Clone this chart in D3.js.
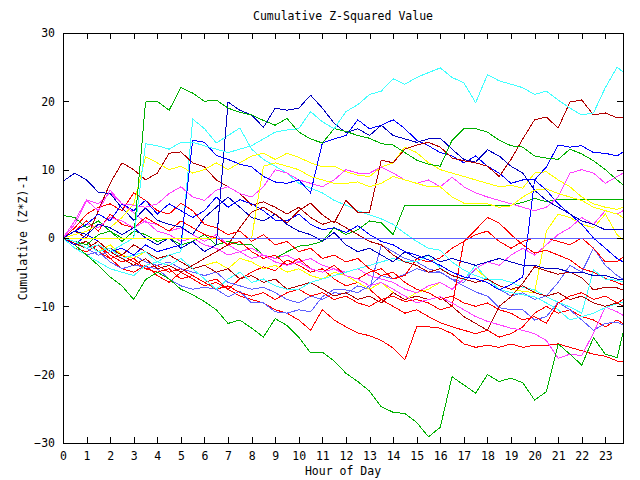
<!DOCTYPE html>
<html><head><meta charset="utf-8">
<script src="https://cdn.jsdelivr.net/npm/d3@7"></script>
<style>
body{margin:0;background:#fff}
text{font-family:"DejaVu Sans Mono",monospace;font-size:11.5px;fill:#000}
</style>
</head><body>
<svg id="c" width="640" height="480"></svg>
<script>
const title = "Cumulative Z-Squared Value";
const xTitle = "Hour of Day";
const yTitle = "Cumulative (Z*Z)-1";
const xTicks = [0,1,2,3,4,5,6,7,8,9,10,11,12,13,14,15,16,17,18,19,20,21,22,23];
const yTicks = [-30,-20,-10,0,10,20,30];
const hours = [0,0.5,1,1.5,2,2.5,3,3.5,4,4.5,5,5.5,6,6.5,7,7.5,8,8.5,9,9.5,10,10.5,11,11.5,
  12,12.5,13,13.5,14,14.5,15,15.5,16,16.5,17,17.5,18,18.5,19,19.5,20,20.5,21,21.5,22,22.5,23,23.5,23.75];

const cyanTop = [0,-0.5,-1.5,-1,-2,-1,0,13.8, 13.5,13,14,14,13.5,13,12.5,13, 13.5,14.5,15.5,15.8,16,18.5,17,16,
  18.5,19.5,21,21.5,23.3,22.5,23.5,24.2, 24.9,23.5,22.7,19.8,23.9,23,22.5,22, 21,21.5,20.2,19,18,18.3,22,25, 24.3];
const greenTop = [0,-0.5,-1,0.5,1,0,0,19.9, 20,18.7,22,21.2,20,20.2,19,18.4, 18,17.2,16.5,17.5,15.5,14.5,13.9,16,
  15.6,15,14.6,13.8,13.6,12.5,11.4,10.8, 10.5,14.3,16,16,15.5,14.3,13.5,13.3, 12,11.7,11.5,13,12.3,11.3,10,8.5, 7.8];
const darkRedRise = [0,-0.8,-1.5,-0.5,-2,-3,-4,-3, -4.5,-4,-5,-4,-3,-2,-1,1.5, 3.8,4.5,3.5,2.2,4,5.1,3.4,2.2,
  5.5,3.8,3.8,11.4,11,13,13.6,14, 13.3,11.7,11.3,11,10.5,9,11.5,14.5, 17.3,17.7,16.1,19.9,20.2,18,18.3,17.6, 17.6];
const blueJump7 = [0,1,0.5,2,1.5,0.5,1.5,0, -1,0,-1.5,-0.5,-2,-1,19.9,18.7, 18,16.2,19,18.7,19,20.9,19,16.8,
  15.4,16,15,16.5,15,14.5,14,14.5, 14.6,13,11.5,11.1,12.9,12,10.5,9.5, 7,5.5,4.5,3.5,2.5,2,1.2,1.2, 1.2];
const blueJump5 = [0,-1,0.5,-0.5,-2,-1.5,-2.5,-1, -2,-1.5,-1,14.3,14,12.1,11.5,10.8, 10.4,9,8.2,8,8.5,6.6,13.9,14.5,
  15,17.3,16,16.5,17.3,16,14.3,13.5, 12.5,12,11,12,10.5,9.5,8,8.5, 8.5,10.4,13.6,13.3,13.5,12.5,12.4,12, 12.6];
const magentaHigh = [0,2,5.5,4,7,5,4.8,4.5, 5,6.5,7.5,6,5.5,7,7.5,6.5, 6,7.5,10,9.5,8.5,8,7.5,8.5,
  10,9.5,9.5,10.4,9.5,8.5,8,8.5, 7.5,8.9,7.5,6.6,6,5.5,5,4.5, 4,4.5,6,9.5,10,9.5,8,9, 9.5];
const yellowHigh = [0,0.5,1,2,1.5,3,5,11.9, 11,10,10.5,9.5,10,11,10,11, 12,12.4,11.5,12.4,11.8,11,10.4,10.5,
  9.7,9.2,9,10.4,11,13.3,12.5,11, 10,9.5,9,8.5,8,7.5,7.7,7.3, 9.5,9.7,8.5,7.5,6,5,4.5,4.2, 4.5];
const yellowFlat = [0,0,0,0,0,0,0,0, 0,0,0,0,0,0,0,0, 0,10.5,11,10.5,10,9,8.5,8,
  8,8.2,7.5,8,9,8.5,8,7.5, 7.5,6,5.1,5,5,4.5,4.7,6, 7,7.2,6.5,6,5.5,4.5,4,3.5, 3];
const greenLow = [0,-1,-2.5,-4,-5.7,-7,-9,-6.1, -5,-6,-7.5,-8.3,-9.3,-10.5,-12.5,-12, -13.2,-14.5,-11.8,-12.8,-14.5,-16.8,-16.7,-18,
  -19.8,-21,-22.4,-24.7,-25.5,-25.7,-27,-29.1, -27.7,-20.3,-21.5,-22.7,-20,-21,-20.5,-21.2, -23.7,-22.5,-15.5,-17,-18.6,-14.6,-17,-17.5, -13.9];
const greenStep = [3.3,3,1.5,2.5,1,-0.5,1,0.5, -0.5,0,-1,-0.5,0.5,-1,-0.5,-1, -1,-2.5,-3,-2,-1.2,-1,-0.5,1.5,
  0.5,1.2,2.5,2.2,0.5,4.8,4.8,4.8, 4.8,4.8,4.8,4.8,4.8,4.8,4.8,5.2, 5.8,5.3,5.7,5.7,5.7,5.7,5.7,5.7, 5.7];
const lightBlueFlat = [null,null,null,null,null,null,null,null, null,null,null,null,null,0,0,0, 0,0,0,0,0,0,0,0,
  0,0,0,0,0,0,0,0, 0,0,0,0,0,0,0,0, 0,0,0,0,0,0,0,0, 0];
const blueLeft = [8.3,9.5,8.5,6.7,6.5,4.4,2.6,4.4, 2.6,2,1.6,0.5,3,4.5,6,4.5, 3,2.5,3.5,2,1,0.5,-0.5,0.8,
  -1,-2,-1.5,-2.5,-3.5,-2,-3,-2.5, -3.5,-3,-3.5,-4,-3.5,-3,-3.5,-4, -4,-4.5,-4.5,-5,-5,-5.5,-5.5,-6, -6.1];
const darkRedHigh = [0,1,0,4,8,11,10,8.5, 9.5,12.4,12.6,11,10.4,8.5,7.5,6.5, 4.8,5.3,4.5,3.5,4.5,3,2,2.5,
  1.5,0.5,-0.5,-1,-2.5,-3.5,-4,-5, -4.5,-5.5,-6,-6.5,-6,-7,-7.5,-7, -8,-8.5,-8,-9,-8.5,-9.5,-10,-9.5, -10];
const cyanJump5 = [0,-0.5,-1,-2,-1.5,-3,-2.5,-2, -3.5,-2.5,-2,17.4,16,13.9,15,16.1, 13,11.5,10.5,9.5,8,7.3,6.6,5.5,
  4.8,4,3.4,2.8,2,0.7,-0.5,-1.5, -1.8,-3.5,-4.7,-5.5,-6.1,-6,-6.5,-7.2, -7.6,-8.6,-9.4,-10.1,-11,-4.7,-6,-6.2, -6.4];
const cyanLow = [0,-1.5,-2.5,-3.5,-4.5,-5,-5.5,-4, -3.5,-4,-3,-4.5,-6,-7.5,-6,-5, -6.5,-6,-7,-7.5,-7.5,-6.5,-6,-5.5,
  -5,-4.5,-4,-3.5,-3,-3.5,-3.5,-2.5, -4.4,-5.5,-6.1,-4,-6,-7.5,-8,-8.3, -8.6,-9.5,-10.5,-12,-11.5,-11,-10.2,-9.6, -9.4];
const magentaLow = [0,1,2,1.5,3,2.5,1.5,2.5, 1,0.5,-0.5,0,-1,-1.5,-2.5,-2, -3,-2.5,-3.5,-4,-3.5,-4.5,-5,-4.5,
  -5.5,-6,-7,-6.5,-7.5,-8.5,-9.5,-9, -8.6,-9.5,-10.5,-11.5,-12.2,-12.7,-13.2,-13.5, -14,-15,-17.6,-17,-17.2,-13.9,-10.1,-10.8, -11.3];
const redJump17 = [0,-0.5,-1.5,-1,-2.5,-3.5,-3,-4.5, -5,-4.5,-6,-5.5,-6.5,-7.5,-7,-8, -8.5,-8,-9,-8,-7.5,-8.5,-8,-9,
  -8.5,-9.5,-10,-9,-8.5,-9.3,-9,-9.5, -10.5,-10,-0.5,1.2,3,2.2,0.5,-1, -2.2,-1.8,-2.5,-3.2,-4.5,-5,-5.9,-6.5, -6.9];
const redMid = [0,1,2.5,1,3.5,2,1.5,3, 2,1,2.5,1.5,0.5,0,-1,-0.5, -2,-3,-2.5,-4,-3,-4.5,-5,-4,
  -5.5,-6,-5,-4.5,-6,-5.5,-3,-3.5, -2.9,-1.5,-0.5,0.5,1,-0.5,-1.5,-0.5, 0,0,-0.5,-1,0,-1.5,-3.5,-3.5, -2.8];
const darkRedMid = [0,-1,-0.5,-2,-1.5,-2.5,-1,-2, -3,-2.5,-3.5,-4.5,-4,-5,-4.5,-6, -5.5,-6.5,-6,-7.5,-7,-6.5,-7.5,-8.5,
  -8,-9,-8.5,-9.5,-8,-9,-8.5,-9, -8.6,-10,-11.5,-12.5,-13.5,-10,-8.6,-6.6, -4.2,-4.8,-5.3,-5,-5.8,-7.6,-7.2,-7.3, -7.6];
const magentaMid = [0,2.5,5.6,5,6.6,5,3.7,2.3, 2,1,1.5,0.5,-0.5,0.5,-1,-2, -1.5,-2.5,-3,-2.5,-3.5,-3,-4,-4.5,
  -5,-4.5,-5.5,-6,-6.5,-7.5,-8,-7, -6.5,-7.5,-6,-4.5,-3.5,-4,-2.5,-1.5, -2.5,-1,0.5,1.5,3,2,4,3.5, 4];
const yellowLow = [0,-1,-0.5,-2,-1,-2.5,-3,-2, -3.5,-4,-3,-4.5,-4,-3.5,-4.5,-3, -3.5,-4.5,-4,-5,-4.5,-5.5,-6,-5,
  -5.5,-6.5,-7.5,-6.5,-8,-9,-8,-7.5, -6.5,-7.5,-6,-4.5,-6,-7,-7.5,-7.8, -8,1,3.5,3,2,1.5,3.5,0.5, -0.3];
const lightBlueLow = [0,-1.5,-2.5,-2,-3.5,-4.5,-4,-4.2, -4.5,-6,-7,-7.5,-7.2,-7.5,-8.6,-7.8, -9.5,-9.5,-10.8,-11,-10.5,-10.8,-8.6,-7.5,
  -7.6,-8,-7,-5.5,-6,-5.3,-4.5,-5, -5,-6.1,-7,-7.9,-8.5,-10.2,-10.5,-10.5, -12,-11.5,-9.4,-10.5,-12,-13.5,-12.5,-12.3, -12.7];
const lightBlueMid = [0,-0.5,-1.5,-2.5,-2,-3,-2.5,-3.5, -4,-3.5,-4.5,-5,-5.5,-5,-6.5,-7, -7.5,-7.2,-8,-9,-9.5,-8.5,-9,-8,
  -8.2,-7,-7.5,-1,-2,-3,-3.5,-4.5, -5,-6,-6.5,-4.5,-6,-7.5,-8.5,-8, -9,-8.5,-6.5,-4,-5,-1.5,-4,-5.5, -6];
const blueJump20 = [0,1,2,3.5,2.5,5,4,5.5, 3.5,5,4,3,4,6,4.5,5.6, 5,4,2.6,2.5,3.5,2,1.2,1.5,
  0.8,1.8,0.5,-0.5,-1,-2,-2.5,-3.2, -4,-5,-5.7,-6,-6.5,-7.6,-6.8,-5.7, 8.5,7,5,3.5,2,0,-1.5,-3, -3.5];
const redUpper = [0,1.5,3.5,4.5,5,4,6.6,5.5, 4,3.5,5.1,4,2,1.5,0.5,1, -0.5,0.5,-1,-0.5,-2,-1.5,-3,-2.5,
  -3.5,-3,-4.5,-5.5,-5,-6.5,-7.5,-8, -9,-8.5,-9.5,-10,-9.5,-10.5,-11,-12, -11.5,-12.5,-9.5,-8.5,-8,-9,-8.5,-9.5, -9];
const redLow = [0,-1.5,-2,-1,-3,-4.5,-5,-4, -5.5,-6.5,-5,-6,-7,-6.5,-7.5,-6, -5,-4.2,-4.8,-3.2,-4,-5,-4.5,-6,
  -7,-6.5,-7.5,-9,-10,-11,-10.5,-11.5, -12.4,-13,-13.5,-14,-13.5,-14.5,-14,-13, -11,-10,-11,-10.5,-11.5,-12,-13,-12, -12.5];
const redBottom = [0,-1,-0.5,-2,-3,-2.5,-3.5,-4.5, -4,-5,-4.5,-5.5,-6.5,-6,-7.5,-8.5, -9,-9.5,-10.5,-11,-12,-13.5,-10.5,-12,
  -13,-13.9,-14.3,-15,-16.1,-17.8,-13,-13, -13.2,-14,-15.5,-16,-15.7,-16,-15.5,-16, -15.7,-15.7,-15.5,-16,-16.5,-17,-17.3,-18, -18.1];

const seriesList = [greenStep, redBottom, redLow, lightBlueMid, lightBlueLow, yellowLow, magentaMid, darkRedMid,
  redMid, redJump17, magentaLow, cyanLow, cyanJump5, darkRedHigh, blueLeft, redUpper, blueJump20, greenLow,
  yellowHigh, magentaHigh, blueJump5, blueJump7, darkRedRise, greenTop, cyanTop, yellowFlat, lightBlueFlat];
const seriesColors = ["#00b000","#ff0000","#ff0000","#6060ff","#6060ff","#ffff00","#ff40ff","#b00000",
  "#ff0000","#ff0000","#ff40ff","#40ffff","#40ffff","#b00000","#0000c0","#ff0000","#0000ff","#00b000",
  "#ffff00","#ff40ff","#0000ff","#0000c0","#b00000","#00b000","#40ffff","#ffff00","#6060ff"];

const W = 640, H = 480;
const m = {left: 63, right: 17, top: 33, bottom: 37};
const svg = d3.select("#c");
const x = d3.scaleLinear().domain([0, 23.75]).range([m.left, W - m.right]);
const y = d3.scaleLinear().domain([-30, 30]).range([H - m.bottom, m.top]);

const plot = svg.append("g");
const line = d3.line().defined(d => d != null).x((d, i) => x(hours[i])).y(d => y(d));
seriesList.forEach((s, k) => {
  plot.append("path").datum(s).attr("d", line)
    .attr("fill", "none").attr("stroke", seriesColors[k]).attr("stroke-width", 1)
    .attr("shape-rendering", "crispEdges");
});

function clean(g){ g.select(".domain").remove(); g.selectAll("line").attr("stroke","#000").attr("shape-rendering","crispEdges"); g.selectAll("text").attr("font-family",null).attr("font-size",null); }
svg.append("g").attr("transform", `translate(0,${H - m.bottom})`)
  .call(d3.axisBottom(x).tickValues(xTicks).tickFormat(d3.format("d")).tickSize(-6).tickPadding(9)).call(clean);
svg.append("g").attr("transform", `translate(0,${m.top})`)
  .call(d3.axisTop(x).tickValues(xTicks).tickFormat("").tickSize(-6)).call(clean);
svg.append("g").attr("transform", `translate(${m.left},0)`)
  .call(d3.axisLeft(y).tickValues(yTicks).tickFormat(d3.format("d")).tickSize(-6).tickPadding(8)).call(clean);
svg.append("g").attr("transform", `translate(${W - m.right},0)`)
  .call(d3.axisRight(y).tickValues(yTicks).tickFormat("").tickSize(-6)).call(clean);

svg.append("rect").attr("x", m.left + 0.5).attr("y", m.top + 0.5)
  .attr("width", W - m.left - m.right).attr("height", H - m.top - m.bottom)
  .attr("fill", "none").attr("stroke", "#000").attr("shape-rendering", "crispEdges");

svg.append("text").attr("x", (m.left + W - m.right) / 2).attr("y", 20).attr("text-anchor", "middle").text(title);
svg.append("text").attr("x", (m.left + W - m.right) / 2).attr("y", 475).attr("text-anchor", "middle").text(xTitle);
svg.append("text").attr("transform", `translate(27,${(m.top + H - m.bottom) / 2}) rotate(-90)`)
  .attr("text-anchor", "middle").text(yTitle);
</script>
</body></html>
